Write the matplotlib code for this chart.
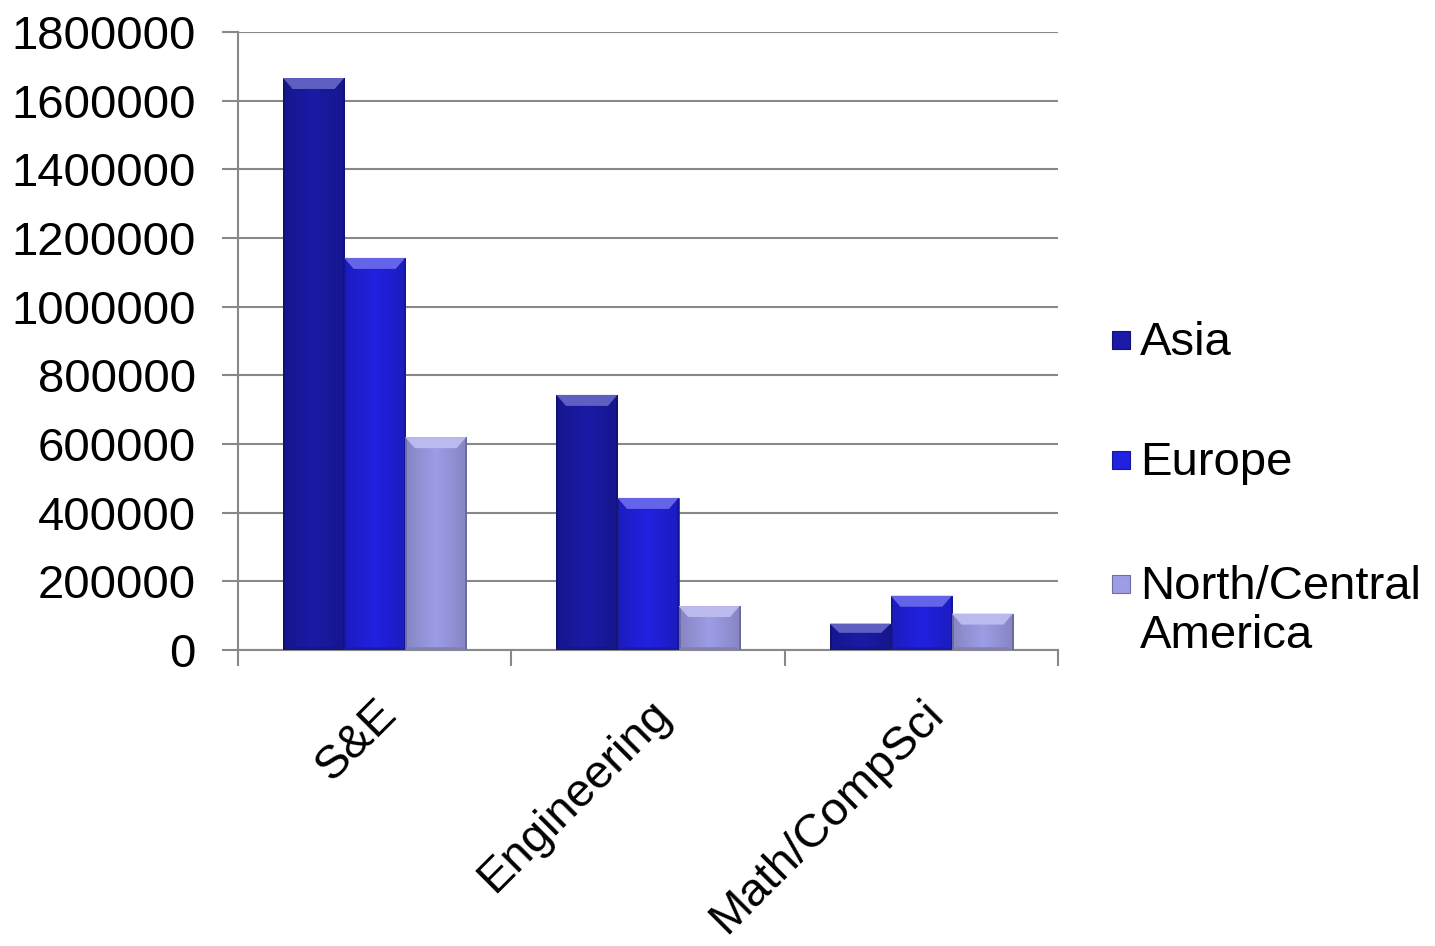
import numpy as np
import matplotlib
matplotlib.use("Agg")
import matplotlib.pyplot as plt
from matplotlib.patches import Rectangle
from matplotlib.colors import to_rgb

categories = ["S&E", "Engineering", "Math/CompSci"]
series = ["Asia", "Europe", "North/Central\nAmerica"]
asia = [1666000, 743000, 77000]
europe = [1142000, 443000, 158000]
nca = [620000, 128000, 106000]
yticks = [0, 200000, 400000, 600000, 800000, 1000000, 1200000, 1400000, 1600000, 1800000]
colors = ["#1a1aa6", "#2121e0", "#9d9de6"]

plt.rcParams['font.family'] = ['Liberation Sans', 'DejaVu Sans']
FS = 34
fig = plt.figure(figsize=(14.35, 9.46), dpi=100)
ax = fig.add_axes([238/1435, 1 - 650/946, (1058-238)/1435, (650-32)/946])

x = np.arange(len(categories))
w = 0.2234
data = [asia, europe, nca]
for i, (vals, c) in enumerate(zip(data, colors)):
    bars = ax.bar(x + (i - 1) * w, vals, width=w, color=c, edgecolor=c, linewidth=0.5, zorder=3)
    base = np.array(to_rgb(c))
    t = np.linspace(0, 1, 64)
    prof = 1 - 0.15 * np.abs(t - 0.5) * 2
    prof[:2] *= 0.8
    prof[-2:] *= 0.8
    for b in bars:
        x0, y0 = b.get_x(), b.get_y()
        bw, bh = b.get_width(), b.get_height()
        img = np.clip(base[None, None, :] * prof[None, :, None], 0, 1)
        im = ax.imshow(img, extent=[x0, x0 + bw, y0, y0 + bh], aspect='auto', zorder=3.5,
                       interpolation='bilinear')
        im.set_clip_path(b)
        top_h = min(32000, bh * 0.35)
        inset = 0.035
        hl = np.clip(base + (1 - base) * 0.3, 0, 1)
        ax.fill([x0, x0 + bw, x0 + bw - inset, x0 + inset],
                [y0 + bh, y0 + bh, y0 + bh - top_h, y0 + bh - top_h],
                color=hl, zorder=4, lw=0)
        bot_h = min(8000, bh * 0.1)
        sh = base * 0.8
        ax.fill([x0, x0 + bw, x0 + bw - inset * 0.4, x0 + inset * 0.4],
                [y0, y0, y0 + bot_h, y0 + bot_h], color=sh, zorder=4, lw=0)

ax.set_xlim(-0.5, 2.5)
ax.set_ylim(0, 1800000)
ax.set_yticks(yticks)
ax.set_yticklabels([str(v) for v in yticks], fontsize=FS)
ax.yaxis.grid(True, color="#888888", linewidth=1.5, zorder=0)
ax.set_axisbelow(True)
ax.tick_params(axis='y', length=11.5, width=1.5, color="#888888", pad=19)

ax.set_xticks(x)
ax.set_xticklabels(categories, fontsize=FS, rotation=45, ha='right', va='top',
                   rotation_mode='anchor')
ax.tick_params(axis='x', which='major', length=0, pad=30)
ax.set_xticks([-0.5, 0.5, 1.5, 2.5], minor=True)
ax.tick_params(axis='x', which='minor', length=11.5, width=1.5, color="#888888")

for s in ['top', 'right']:
    ax.spines[s].set_visible(False)
for s in ['left', 'bottom']:
    ax.spines[s].set_color("#888888")
    ax.spines[s].set_linewidth(1.5)

# legend (drawn manually so the marker aligns with the first text line)
W, H = 1435, 946
leg_y = [340, 460, 584]
for lbl, c, yy in zip(series, colors, leg_y):
    fig.patches.append(Rectangle((1112/W, 1 - (yy + 9)/H), 18/W, 18/H,
                                 facecolor=c, edgecolor=np.array(to_rgb(c)) * 0.7,
                                 linewidth=0.8, transform=fig.transFigure, figure=fig))
    fig.text(1140/W, 1 - (yy - 19)/H, lbl, fontsize=FS, ha='left', va='top',
             linespacing=1.15)

fig.savefig("out.png", dpi=100)
